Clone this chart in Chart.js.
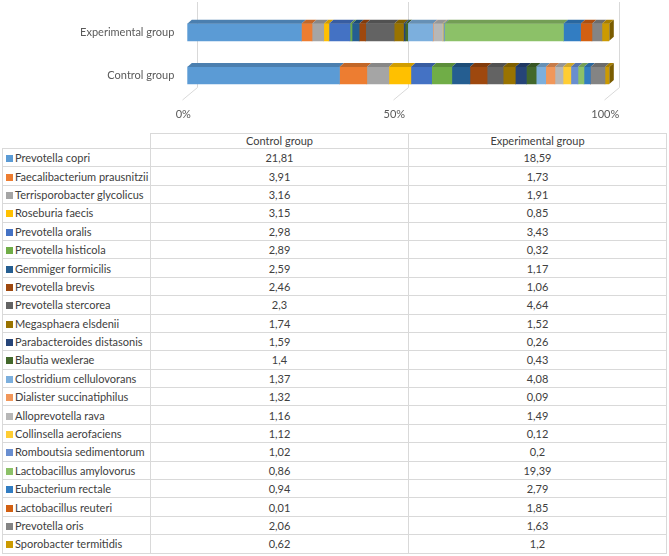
<!DOCTYPE html>
<html>
<head>
<meta charset="utf-8">
<script src="https://cdn.jsdelivr.net/npm/chart.js@4/dist/chart.umd.min.js"></script>
<style>
  html, body { margin:0; padding:0; background:#fff; width:669px; height:556px; overflow:hidden; }
  #wrap { position:absolute; left:0; top:0; width:669px; height:130px; }
  #tbl { position:absolute; left:2px; top:133px; border-collapse:collapse; font-family:Lato, "Open Sans", sans-serif; font-size:11px; color:#404040; table-layout:fixed; }
  #tbl td { border:1px solid #d9d9d9; padding:0; height:17.4px; line-height:17px; white-space:nowrap; overflow:hidden; }
  #tbl tr.hdr td { height:14px; line-height:14px; text-align:center; }
  #tbl tr.hdr td.blank { border-top:none; border-left:none; }
  #tbl td.num { text-align:center; }
  #tbl td.name { padding-left:3px; }
  .mk { display:inline-block; width:7px; height:7px; margin-right:2px; vertical-align:0px; }
</style>
</head>
<body>
<div id="wrap"><canvas id="c" width="669" height="130"></canvas></div>
<table id="tbl"></table>
<script>
const categories = ['Control group', 'Experimental group'];
const species = [
  'Prevotella copri','Faecalibacterium prausnitzii','Terrisporobacter glycolicus','Roseburia faecis',
  'Prevotella oralis','Prevotella histicola','Gemmiger formicilis','Prevotella brevis',
  'Prevotella stercorea','Megasphaera elsdenii','Parabacteroides distasonis','Blautia wexlerae',
  'Clostridium cellulovorans','Dialister succinatiphilus','Alloprevotella rava','Collinsella aerofaciens',
  'Romboutsia sedimentorum','Lactobacillus amylovorus','Eubacterium rectale','Lactobacillus reuteri',
  'Prevotella oris','Sporobacter termitidis'
];
const controlValues = [21.81,3.91,3.16,3.15,2.98,2.89,2.59,2.46,2.3,1.74,1.59,1.4,1.37,1.32,1.16,1.12,1.02,0.86,0.94,0.01,2.06,0.62];
const experimentalValues = [18.59,1.73,1.91,0.85,3.43,0.32,1.17,1.06,4.64,1.52,0.26,0.43,4.08,0.09,1.49,0.12,0.2,19.39,2.79,1.85,1.63,1.2];
const xTicks = [0, 50, 100];

const palette = ['#5B9BD5','#ED7D31','#A5A5A5','#FFC000','#4472C4','#70AD47','#255E91','#9E480E','#636363','#997300','#264478','#43682B','#7CAFDD','#F1975A','#B7B7B7','#FFCD33','#698ED0','#8CC168','#327DC2','#D26012','#848484','#CC9A00'];

function shade(hex, f) {
  const n = parseInt(hex.slice(1), 16);
  const r = Math.round(((n >> 16) & 255) * f), g = Math.round(((n >> 8) & 255) * f), b = Math.round((n & 255) * f);
  return 'rgb(' + r + ',' + g + ',' + b + ')';
}

const sumC = controlValues.reduce((a, b) => a + b, 0);
const sumE = experimentalValues.reduce((a, b) => a + b, 0);

const datasets = species.map((s, i) => ({
  label: s,
  data: [controlValues[i] / sumC * 100, experimentalValues[i] / sumE * 100],
  backgroundColor: palette[i],
  borderWidth: 0,
  barThickness: 17
}));

const DX = 4.5, DY = 4;
const depthPlugin = {
  id: 'depth',
  beforeDatasetsDraw(chart) {
    const ctx = chart.ctx, xs = chart.scales.x;
    ctx.save();
    ctx.strokeStyle = '#d9d9d9';
    ctx.lineWidth = 1;
    xTicks.forEach(v => {
      const x = Math.round(xs.getPixelForValue(v)) + 0.5;
      ctx.beginPath();
      ctx.moveTo(x + 10, 2);
      ctx.lineTo(x + 10, 87.5);
      ctx.lineTo(x - 5, 100);
      ctx.stroke();
    });
    ctx.restore();
  },
  afterDatasetsDraw(chart) {
    const ctx = chart.ctx, right = chart.chartArea.right;
    ctx.save();
    chart.data.datasets.forEach((ds, i) => {
      const meta = chart.getDatasetMeta(i);
      meta.data.forEach(el => {
        const x0 = Math.min(el.base, el.x), x1 = Math.max(el.base, el.x);
        if (x1 - x0 < 0.05) return;
        const top = el.y - el.height / 2, bot = el.y + el.height / 2;
        ctx.fillStyle = shade(ds.backgroundColor, 0.82);
        ctx.beginPath();
        ctx.moveTo(x0, top); ctx.lineTo(x1, top);
        ctx.lineTo(x1 + DX, top - DY); ctx.lineTo(x0 + DX, top - DY);
        ctx.closePath(); ctx.fill();
        if (x1 >= right - 0.5) {
          ctx.fillStyle = shade(ds.backgroundColor, 0.6);
          ctx.beginPath();
          ctx.moveTo(x1, top); ctx.lineTo(x1 + DX, top - DY);
          ctx.lineTo(x1 + DX, bot - DY); ctx.lineTo(x1, bot);
          ctx.closePath(); ctx.fill();
        }
      });
    });
    ctx.restore();
  }
};

new Chart(document.getElementById('c'), {
  type: 'bar',
  data: { labels: categories, datasets },
  plugins: [depthPlugin],
  options: {
    responsive: false,
    animation: false,
    indexAxis: 'y',
    layout: { padding: { left: 0, right: 59.7, top: 10.7, bottom: 0 } },
    plugins: { legend: { display: false }, tooltip: { enabled: false } },
    scales: {
      x: {
        stacked: true, min: 0, max: 100,
        afterBuildTicks(scale) { scale.ticks = xTicks.map(v => ({ value: v })); },
        afterFit(scale) { scale.height = 32.9; scale.paddingLeft = 0; scale.paddingRight = 0; },
        grid: { display: false, drawTicks: false },
        border: { display: false },
        ticks: { callback: v => v + '%', color: '#595959', font: { family: 'Lato', size: 11 }, padding: 11, labelOffset: -4, maxRotation: 0 }
      },
      y: {
        stacked: true, reverse: true,
        afterFit(scale) { scale.width = 187.3; scale.paddingTop = 0; scale.paddingBottom = 0; },
        grid: { display: false, drawTicks: false },
        border: { display: false },
        ticks: { color: '#595959', font: { family: 'Lato', size: 11 }, padding: 13 }
      }
    }
  }
});

// data table
const tbl = document.getElementById('tbl');
const colW = [148, 258, 258];
let html = '<colgroup>' + colW.map(w => '<col style="width:' + w + 'px">').join('') + '</colgroup>';
html += '<tr class="hdr"><td class="blank"></td>' + categories.map(c => '<td>' + c + '</td>').join('') + '</tr>';
const fmt = v => String(v).replace('.', ',');
species.forEach((s, i) => {
  html += '<tr><td class="name"><span class="mk" style="background:' + palette[i] + '"></span>' + s + '</td>' +
    '<td class="num">' + fmt(controlValues[i]) + '</td><td class="num">' + fmt(experimentalValues[i]) + '</td></tr>';
});
tbl.innerHTML = html;
</script>
</body>
</html>
